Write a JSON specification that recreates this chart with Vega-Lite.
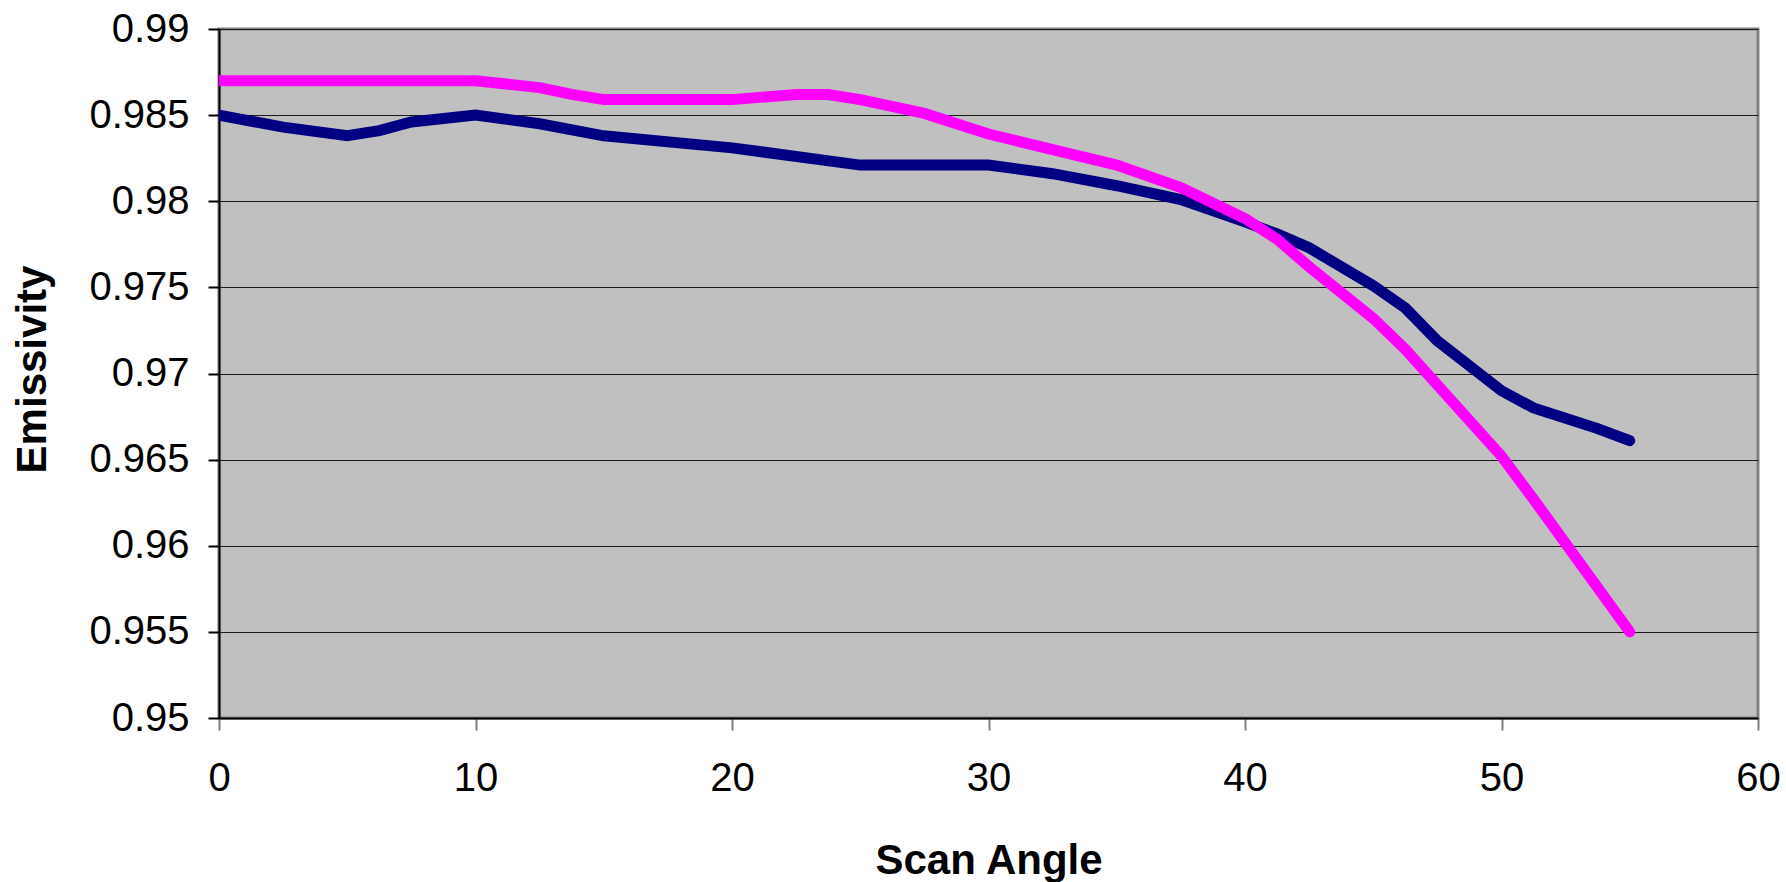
{
  "$schema": "https://vega.github.io/schema/vega-lite/v6.json",
  "width": 1539,
  "height": 689,
  "autosize": "none",
  "padding": {"left": 219, "top": 29, "right": 28, "bottom": 164},
  "background": "white",
  "config": {
    "font": "Liberation Sans",
    "view": {"fill": "#C0C0C0", "stroke": "#808080", "strokeWidth": 3}
  },
  "data": {
    "values": [
      {"angle": 0, "series": "Series1", "emissivity": 0.985},
      {"angle": 2.5, "series": "Series1", "emissivity": 0.9843},
      {"angle": 5, "series": "Series1", "emissivity": 0.9838},
      {"angle": 6.25, "series": "Series1", "emissivity": 0.9841},
      {"angle": 7.5, "series": "Series1", "emissivity": 0.9846},
      {"angle": 10, "series": "Series1", "emissivity": 0.985},
      {"angle": 12.5, "series": "Series1", "emissivity": 0.9845},
      {"angle": 15, "series": "Series1", "emissivity": 0.9838},
      {"angle": 20, "series": "Series1", "emissivity": 0.9831},
      {"angle": 25, "series": "Series1", "emissivity": 0.9821},
      {"angle": 30, "series": "Series1", "emissivity": 0.9821},
      {"angle": 32.5, "series": "Series1", "emissivity": 0.9816},
      {"angle": 35, "series": "Series1", "emissivity": 0.9809},
      {"angle": 37.5, "series": "Series1", "emissivity": 0.9801},
      {"angle": 40, "series": "Series1", "emissivity": 0.9788},
      {"angle": 41.25, "series": "Series1", "emissivity": 0.9781},
      {"angle": 42.5, "series": "Series1", "emissivity": 0.9773},
      {"angle": 45, "series": "Series1", "emissivity": 0.9751},
      {"angle": 46.25, "series": "Series1", "emissivity": 0.9738},
      {"angle": 47.5, "series": "Series1", "emissivity": 0.9719},
      {"angle": 50, "series": "Series1", "emissivity": 0.969},
      {"angle": 51.25, "series": "Series1", "emissivity": 0.968},
      {"angle": 53.75, "series": "Series1", "emissivity": 0.9668},
      {"angle": 55, "series": "Series1", "emissivity": 0.9661},
      {"angle": 0, "series": "Series2", "emissivity": 0.987},
      {"angle": 10, "series": "Series2", "emissivity": 0.987},
      {"angle": 12.5, "series": "Series2", "emissivity": 0.9866},
      {"angle": 13.75, "series": "Series2", "emissivity": 0.9862},
      {"angle": 15, "series": "Series2", "emissivity": 0.9859},
      {"angle": 20, "series": "Series2", "emissivity": 0.9859},
      {"angle": 22.5, "series": "Series2", "emissivity": 0.9862},
      {"angle": 23.75, "series": "Series2", "emissivity": 0.9862},
      {"angle": 25, "series": "Series2", "emissivity": 0.9859},
      {"angle": 27.5, "series": "Series2", "emissivity": 0.9851},
      {"angle": 30, "series": "Series2", "emissivity": 0.9839},
      {"angle": 32.5, "series": "Series2", "emissivity": 0.983},
      {"angle": 35, "series": "Series2", "emissivity": 0.9821},
      {"angle": 37.5, "series": "Series2", "emissivity": 0.9808},
      {"angle": 40, "series": "Series2", "emissivity": 0.979},
      {"angle": 41.25, "series": "Series2", "emissivity": 0.9778},
      {"angle": 42.5, "series": "Series2", "emissivity": 0.9762},
      {"angle": 45, "series": "Series2", "emissivity": 0.9732},
      {"angle": 46.25, "series": "Series2", "emissivity": 0.9714},
      {"angle": 50, "series": "Series2", "emissivity": 0.9652},
      {"angle": 51.25, "series": "Series2", "emissivity": 0.9627},
      {"angle": 55, "series": "Series2", "emissivity": 0.955}
    ]
  },
  "mark": {"type": "line", "strokeWidth": 11, "strokeCap": "round", "strokeJoin": "miter", "clip": true},
  "encoding": {
    "x": {
      "field": "angle",
      "type": "quantitative",
      "scale": {"domain": [0, 60], "nice": false, "zero": false},
      "axis": {
        "title": "Scan Angle",
        "values": [0, 10, 20, 30, 40, 50, 60],
        "grid": false,
        "domainColor": "#000000",
        "domainWidth": 2,
        "tickColor": "#808080",
        "tickWidth": 2,
        "tickSize": 12,
        "labelFontSize": 40,
        "labelColor": "#000000",
        "labelPadding": 28,
        "labelFlush": false,
        "titleFontSize": 42,
        "titleFontWeight": "bold",
        "titleColor": "#000000",
        "titleBaseline": "alphabetic",
        "titleAnchor": "middle",
        "titleX": 769.5,
        "titleY": 155
      }
    },
    "y": {
      "field": "emissivity",
      "type": "quantitative",
      "scale": {"domain": [0.95, 0.99], "nice": false, "zero": false},
      "axis": {
        "title": "Emissivity",
        "values": [0.95, 0.955, 0.96, 0.965, 0.97, 0.975, 0.98, 0.985, 0.99],
        "format": "~g",
        "grid": true,
        "gridColor": "#1a1a1a",
        "gridWidth": 1.2,
        "gridOpacity": 1,
        "domainColor": "#000000",
        "domainWidth": 2,
        "tickColor": "#000000",
        "tickWidth": 2,
        "tickSize": 11,
        "labelFontSize": 40,
        "labelColor": "#000000",
        "labelPadding": 19,
        "labelFlush": false,
        "titleFontSize": 42,
        "titleFontWeight": "bold",
        "titleColor": "#000000",
        "titleAngle": -90,
        "titleAlign": "center",
        "titleBaseline": "alphabetic",
        "titleX": -174,
        "titleY": 340
      }
    },
    "color": {
      "field": "series",
      "type": "nominal",
      "scale": {"domain": ["Series1", "Series2"], "range": ["#000080", "#FF00FF"]},
      "legend": null
    }
  }
}
